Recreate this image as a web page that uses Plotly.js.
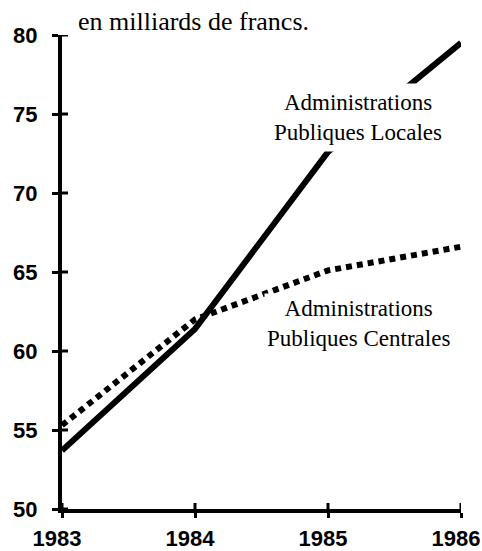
<!DOCTYPE html>
<html><head><meta charset="utf-8">
<script src="https://cdn.plot.ly/plotly-3.0.1.min.js"></script>
<style>html,body{margin:0;padding:0;background:#fff;}#c{width:482px;height:551px;}</style>
</head><body><div id="c"></div>
<script>
const years = [1983, 1984, 1985, 1986];
const locales = [53.7, 61.4, 72.6, 79.5];
const centrales = [55.3, 62.0, 65.1, 66.6];
const xTicks = [1983, 1984, 1985, 1986];
const yTicks = [50, 55, 60, 65, 70, 75, 80];
const unitLabel = "en milliards de francs.";
const labelLocales = "Administrations<br>Publiques Locales";
const labelCentrales = "Administrations<br>Publiques Centrales";

const traces = [
  {x: years, y: centrales, mode: 'lines', line: {color: '#000', width: 6, dash: '6px,5px'}, hoverinfo: 'skip'},
  {x: years, y: locales, mode: 'lines', line: {color: '#000', width: 6}, hoverinfo: 'skip'}
];
const tickFont = {family: 'Liberation Sans, Arial, sans-serif', size: 22, color: '#000', weight: 'bold'};
const serif = {family: 'Liberation Serif, Times New Roman, serif', size: 23, color: '#000'};

// inner halves of the crossing tick marks
const innerTicks = [];
yTicks.forEach(v => innerTicks.push({type: 'line', xref: 'x', xsizemode: 'pixel', xanchor: xTicks[0], x0: 0, x1: 6,
  yref: 'y', y0: v, y1: v, line: {color: '#000', width: 3}}));
xTicks.forEach(v => innerTicks.push({type: 'line', yref: 'y', ysizemode: 'pixel', yanchor: yTicks[0], y0: 0, y1: 6,
  xref: 'x', x0: v, x1: v, line: {color: '#000', width: 3}}));

const layout = {
  width: 482, height: 551,
  margin: {l: 62, r: 21, t: 35, b: 42},
  paper_bgcolor: '#fff', plot_bgcolor: '#fff',
  showlegend: false,
  xaxis: {range: [1983, 1986], tickvals: xTicks, ticktext: xTicks.map(String), showgrid: false, zeroline: false,
          showline: true, linecolor: '#000', linewidth: 4, ticks: 'outside', ticklen: 5, tickwidth: 3, tickcolor: '#000',
          tickfont: tickFont, ticklabelstandoff: 2, ticklabelshift: -5, ticklabeloverflow: 'allow'},
  yaxis: {range: [50, 80], tickvals: yTicks, ticktext: yTicks.map(String), showgrid: false, zeroline: false,
          showline: true, linecolor: '#000', linewidth: 4, ticks: 'outside', ticklen: 6, tickwidth: 3, tickcolor: '#000',
          tickfont: tickFont, ticklabelstandoff: 10, ticklabeloverflow: 'allow'},
  shapes: innerTicks,
  annotations: [
    {xref: 'paper', yref: 'paper', x: 0.035, y: 1.0, xanchor: 'left', yanchor: 'bottom', yshift: -3,
     text: unitLabel, showarrow: false, font: {family: serif.family, size: 26, color: '#000'}},
    {xref: 'paper', yref: 'paper', x: 0.742, y: 0.825, xanchor: 'center', yanchor: 'middle',
     text: labelLocales, showarrow: false, font: serif, align: 'center', bgcolor: '#fff', borderpad: 6},
    {xref: 'paper', yref: 'paper', x: 0.742, y: 0.392, xanchor: 'center', yanchor: 'middle',
     text: labelCentrales, showarrow: false, font: serif, align: 'center', bgcolor: '#fff', borderpad: 2}
  ]
};
Plotly.newPlot('c', traces, layout, {staticPlot: true, displayModeBar: false});
</script></body></html>
